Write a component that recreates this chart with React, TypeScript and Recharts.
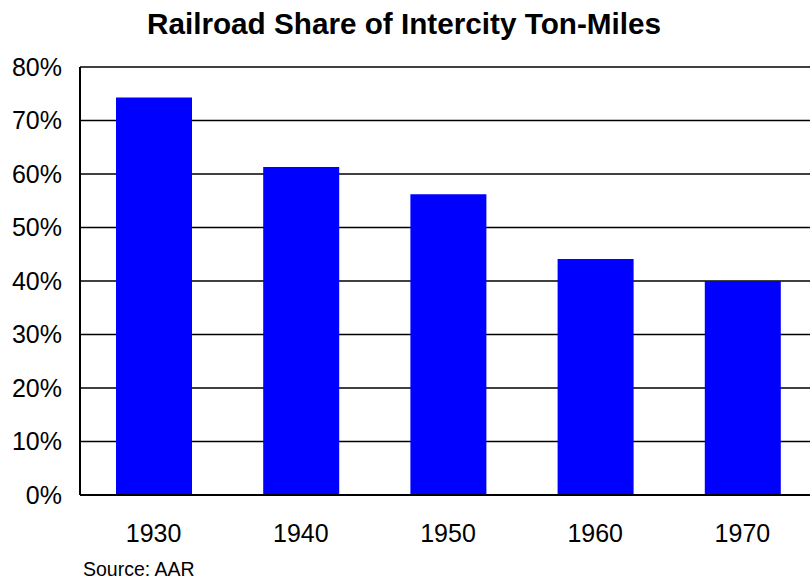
import { BarChart, Bar, XAxis, YAxis, CartesianGrid } from 'recharts'

const years = ['1930', '1940', '1950', '1960', '1970']
const railShare = [74.3, 61.3, 56.2, 44.1, 40.0]
const yTicks = [0, 10, 20, 30, 40, 50, 60, 70, 80]

const data = years.map((year, i) => ({ year, share: railShare[i] }))

const FONT = 'Arial, "Liberation Sans", sans-serif'

export default function App() {
  return (
    <div
      style={{
        position: 'absolute',
        left: 0,
        top: 0,
        width: 810,
        height: 580,
        overflow: 'hidden',
        background: '#fff',
        fontFamily: FONT,
      }}
    >
      {/* Title */}
      <div
        style={{
          position: 'absolute',
          left: 0,
          top: 7,
          width: 808,
          textAlign: 'center',
          fontSize: 29.7,
          lineHeight: '34px',
          fontWeight: 'bold',
          color: '#000',
        }}
      >
        Railroad Share of Intercity Ton-Miles
      </div>

      <BarChart
        width={820}
        height={580}
        data={data}
        margin={{ top: 67, right: 4, bottom: 0, left: 0 }}
        barSize={76}
      >
        <CartesianGrid vertical={false} stroke="#000" strokeWidth={1.5} strokeOpacity={1} />
        <XAxis
          dataKey="year"
          height={85}
          tickLine={false}
          tickSize={0}
          tickMargin={29}
          axisLine={{ stroke: '#000', strokeWidth: 2 }}
          tick={{ fill: '#000', fontSize: 25, fontFamily: FONT }}
        />
        <YAxis
          width={80}
          domain={[0, 80]}
          ticks={yTicks}
          interval={0}
          tickLine={false}
          tickSize={0}
          tickMargin={18}
          tickFormatter={(v: number) => `${v}%`}
          axisLine={{ stroke: '#000', strokeWidth: 2 }}
          tick={{ fill: '#000', fontSize: 25, fontFamily: FONT }}
        />
        <Bar dataKey="share" fill="#0000ff" isAnimationActive={false} />
      </BarChart>

      {/* Source note */}
      <div
        style={{
          position: 'absolute',
          left: 83,
          top: 559,
          fontSize: 19.5,
          lineHeight: '20px',
          color: '#000',
        }}
      >
        Source: AAR
      </div>
    </div>
  )
}
